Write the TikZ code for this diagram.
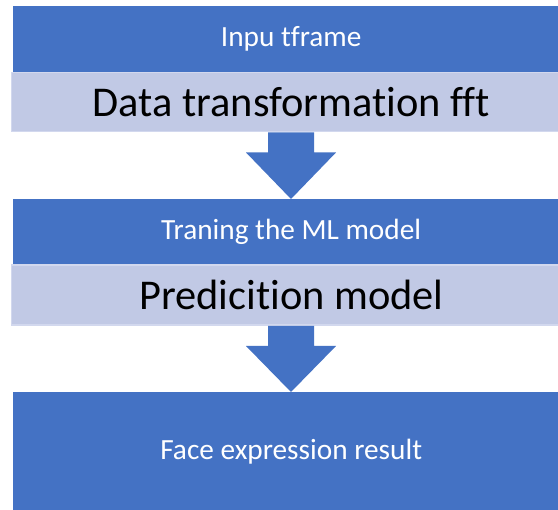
\documentclass[tikz,border=0pt]{standalone}
\usepackage{fontspec}
\setmainfont{Carlito}[Ligatures=NoCommon]
\usetikzlibrary{calc}
\definecolor{stepblue}{HTML}{4472C4}
\definecolor{bandfill}{HTML}{C1C9E5}
\definecolor{bandedge}{HTML}{D2D8EE}
\begin{document}
\begin{tikzpicture}[x=1pt,y=-1pt,
  bluebox/.style={fill=stepblue, draw=none, inner sep=0pt, anchor=north west,
    text=white, font=\fontsize{29.3}{31}\selectfont},
  band/.style={fill=bandfill, draw=bandedge, line width=1.5pt, inner sep=0pt,
    anchor=north west, text=black, font=\fontsize{42.4}{44}\selectfont},
  flowarrow/.style={fill=stepblue, draw=none}]
\fill[white] (0,0) rectangle (558,510);
\useasboundingbox (0,0) rectangle (558,510);

% stage boxes (they run past the right edge of the page)
\node[bluebox, minimum width=556pt, minimum height=66pt] (input) at (13,6) {Inpu tframe};
\node[band, minimum width=560pt, minimum height=59pt] (fft) at (10.75,72) {Data transformation fft};
\node[bluebox, minimum width=556pt, minimum height=65pt] (train) at (13,199) {Traning the ML model};
\node[band, minimum width=560pt, minimum height=60pt] (pred) at (10.75,264.5) {Predicition model};
\node[bluebox, minimum width=556pt, minimum height=118pt] (result) at (13,392) {Face expression result};

% block arrows between stages
\coordinate (axis) at (291,0);
\fill[flowarrow] let \p1=(fft.south -| axis), \p2=(train.north -| axis) in
  (\x1-23pt,\y1) -- (\x1+23pt,\y1) -- (\x1+23pt,\y1-20pt) -- (\x1+45pt,\y1-20pt)
  -- (\x2,\y2) -- (\x1-45pt,\y1-20pt) -- (\x1-23pt,\y1-20pt) -- cycle;
\fill[flowarrow] let \p1=(pred.south -| axis), \p2=(result.north -| axis) in
  (\x1-23pt,\y1) -- (\x1+23pt,\y1) -- (\x1+23pt,\y1-20pt) -- (\x1+45pt,\y1-20pt)
  -- (\x2,\y2) -- (\x1-45pt,\y1-20pt) -- (\x1-23pt,\y1-20pt) -- cycle;
\end{tikzpicture}
\end{document}
